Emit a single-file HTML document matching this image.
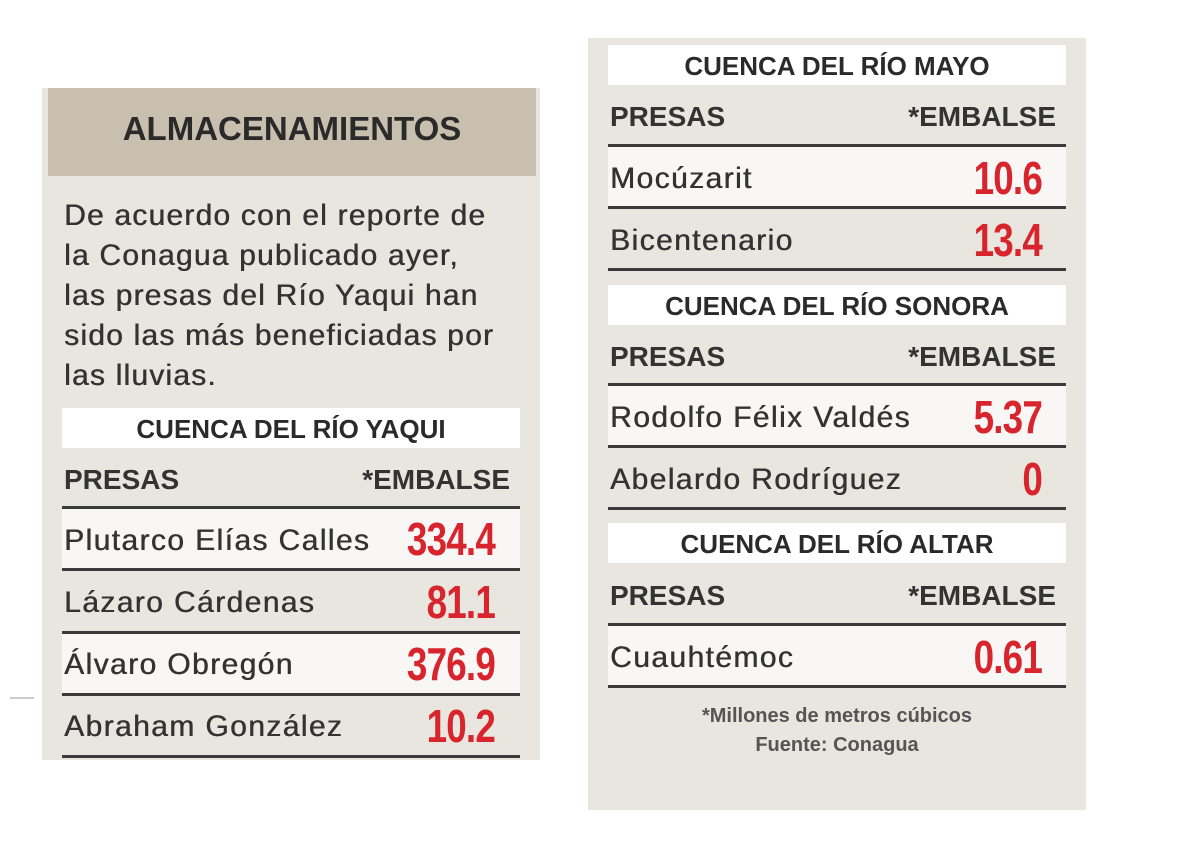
<!DOCTYPE html>
<html><head><meta charset="utf-8"><style>
body{margin:0;width:1200px;height:865px;background:#fff;position:relative;overflow:hidden;font-family:"Liberation Sans",sans-serif;color:#2a2a2a}
.a{position:absolute}
.p{background:#e9e6e0}
.strip{background:#fff;font-weight:bold;font-size:26px;text-align:center;color:#2a2a2a}
.hd{font-weight:bold;font-size:28px;color:#333}
.ln{height:3px;background:#3a3a3a}
.row{background:#f8f7f5}
.nm{font-size:30px;color:#333;letter-spacing:1.4px;text-shadow:0.5px 0 0 #333}
.num{font-weight:bold;font-size:46px;color:#d8242c;text-align:right;transform:scaleX(0.8);transform-origin:right center;letter-spacing:-1px}
</style></head><body>
<div class="a" style="left:10px;top:697px;width:24px;height:2px;background:#ccc"></div>
<div class="a p" style="left:42px;top:88px;width:498px;height:672px"></div>
<div class="a" style="left:48px;top:88px;width:488px;height:88px;background:#c9bfaf"></div>
<div class="a" style="left:48px;top:110px;width:488px;text-align:center;font-weight:bold;font-size:33px;color:#2a2a2a">ALMACENAMIENTOS</div>
<div class="a" style="left:64px;top:196px;width:480px;font-size:30px;line-height:40px;color:#333;letter-spacing:1.2px;text-shadow:0.5px 0 0 #333;white-space:nowrap">De acuerdo con el reporte de<br>la Conagua publicado ayer,<br>las presas del Río Yaqui han<br>sido las más beneficiadas por<br>las lluvias.</div>
<div class="a strip" style="left:62px;top:408px;width:458px;height:40px;line-height:42px">CUENCA DEL RÍO YAQUI</div>
<div class="a hd" style="left:64px;top:464px">PRESAS</div>
<div class="a hd" style="left:340px;top:464px;width:170px;text-align:right">*EMBALSE</div>
<div class="a row" style="left:62px;top:509px;width:458px;height:60px"></div>
<div class="a row" style="left:62px;top:634px;width:458px;height:60px"></div>
<div class="a ln" style="left:62px;top:506px;width:458px"></div>
<div class="a ln" style="left:62px;top:568px;width:458px"></div>
<div class="a ln" style="left:62px;top:631px;width:458px"></div>
<div class="a ln" style="left:62px;top:693px;width:458px"></div>
<div class="a ln" style="left:62px;top:755px;width:458px"></div>
<div class="a nm" style="left:64px;top:524px">Plutarco Elías Calles</div>
<div class="a nm" style="left:64px;top:586px">Lázaro Cárdenas</div>
<div class="a nm" style="left:64px;top:648px">Álvaro Obregón</div>
<div class="a nm" style="left:64px;top:710px">Abraham González</div>
<div class="a num" style="left:300px;top:512px;width:195px">334.4</div>
<div class="a num" style="left:300px;top:575px;width:195px">81.1</div>
<div class="a num" style="left:300px;top:637px;width:195px">376.9</div>
<div class="a num" style="left:300px;top:699px;width:195px">10.2</div>

<div class="a p" style="left:588px;top:38px;width:498px;height:772px"></div>
<div class="a strip" style="left:608px;top:45px;width:458px;height:40px;line-height:42px">CUENCA DEL RÍO MAYO</div>
<div class="a hd" style="left:610px;top:101px">PRESAS</div>
<div class="a hd" style="left:880px;top:101px;width:176px;text-align:right">*EMBALSE</div>
<div class="a row" style="left:608px;top:147px;width:458px;height:60px"></div>
<div class="a ln" style="left:608px;top:144px;width:458px"></div>
<div class="a ln" style="left:608px;top:206px;width:458px"></div>
<div class="a ln" style="left:608px;top:268px;width:458px"></div>
<div class="a nm" style="left:610px;top:162px">Mocúzarit</div>
<div class="a nm" style="left:610px;top:224px">Bicentenario</div>
<div class="a num" style="left:840px;top:151px;width:202px">10.6</div>
<div class="a num" style="left:840px;top:213px;width:202px">13.4</div>

<div class="a strip" style="left:608px;top:285px;width:458px;height:40px;line-height:42px">CUENCA DEL RÍO SONORA</div>
<div class="a hd" style="left:610px;top:341px">PRESAS</div>
<div class="a hd" style="left:880px;top:341px;width:176px;text-align:right">*EMBALSE</div>
<div class="a row" style="left:608px;top:386px;width:458px;height:60px"></div>
<div class="a ln" style="left:608px;top:383px;width:458px"></div>
<div class="a ln" style="left:608px;top:445px;width:458px"></div>
<div class="a ln" style="left:608px;top:507px;width:458px"></div>
<div class="a nm" style="left:610px;top:401px">Rodolfo Félix Valdés</div>
<div class="a nm" style="left:610px;top:463px">Abelardo Rodríguez</div>
<div class="a num" style="left:840px;top:390px;width:202px">5.37</div>
<div class="a num" style="left:840px;top:452px;width:202px">0</div>

<div class="a strip" style="left:608px;top:523px;width:458px;height:40px;line-height:42px">CUENCA DEL RÍO ALTAR</div>
<div class="a hd" style="left:610px;top:580px">PRESAS</div>
<div class="a hd" style="left:880px;top:580px;width:176px;text-align:right">*EMBALSE</div>
<div class="a row" style="left:608px;top:626px;width:458px;height:60px"></div>
<div class="a ln" style="left:608px;top:623px;width:458px"></div>
<div class="a ln" style="left:608px;top:685px;width:458px"></div>
<div class="a nm" style="left:610px;top:641px">Cuauhtémoc</div>
<div class="a num" style="left:840px;top:630px;width:202px">0.61</div>
<div class="a" style="left:608px;top:702px;width:458px;text-align:center;font-weight:bold;font-size:20px;line-height:29px;color:#555">*Millones de metros cúbicos<br>Fuente: Conagua</div>
</body></html>
